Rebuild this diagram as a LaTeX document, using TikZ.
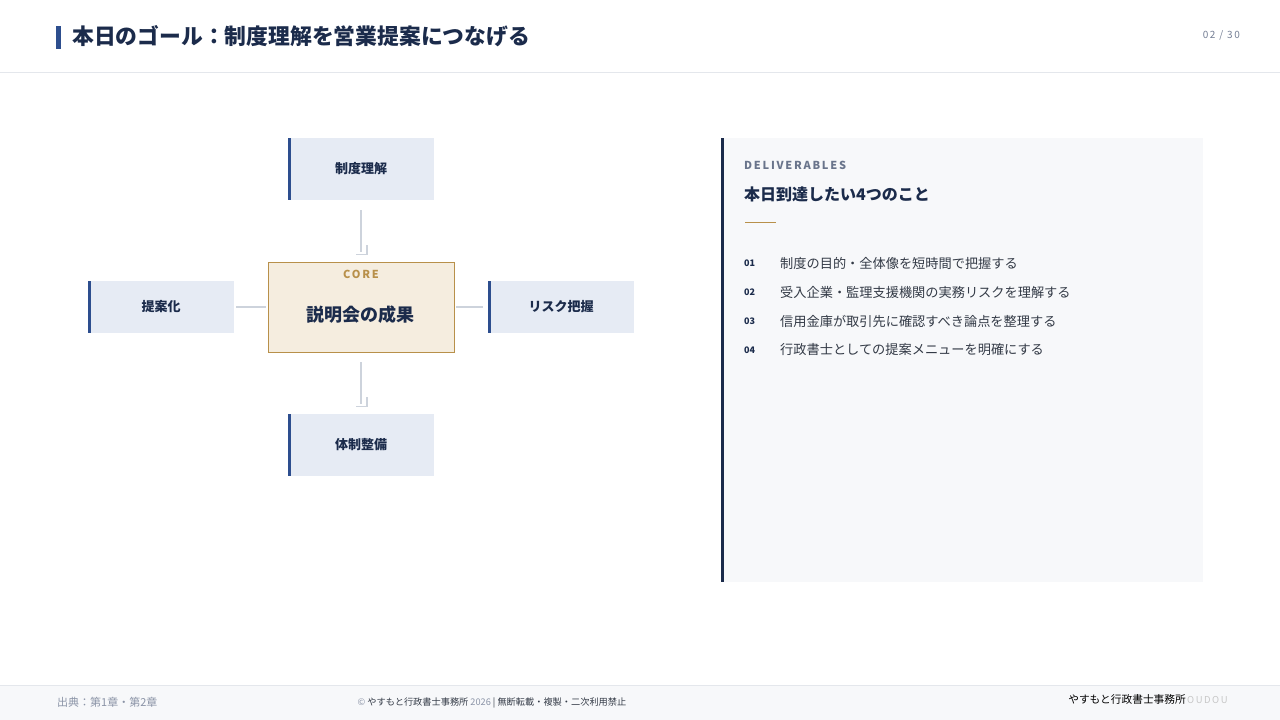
\documentclass[tikz,border=0pt]{standalone}
\usepackage{fontspec}
\setmainfont{Noto Sans CJK JP}
\newfontfamily\widefont[LetterSpace=16]{Noto Sans CJK JP}
\usetikzlibrary{positioning}
\definecolor{navy}{HTML}{1B2B4B}
\definecolor{accent}{HTML}{2D4E8E}
\definecolor{paleblue}{HTML}{E6EBF4}
\definecolor{cream}{HTML}{F5EDDF}
\definecolor{gold}{HTML}{B8904A}
\definecolor{panel}{HTML}{F7F8FA}
\definecolor{rule}{HTML}{E4E7EC}
\definecolor{linkgray}{HTML}{CDD3DC}
\definecolor{muted}{HTML}{8A93A6}
\definecolor{body}{HTML}{333A46}

\begin{document}
\begin{tikzpicture}[x=1pt,y=-1pt,
        pill/.style={fill=paleblue,minimum width=146pt,minimum height=62pt,inner sep=0pt,
          font=\fontsize{13}{15}\selectfont\bfseries,text=navy},
        sidepill/.style={pill,minimum height=52pt},
        corebox/.style={draw=gold,line width=0.8pt,fill=cream,minimum width=186pt,
          minimum height=90pt,inner sep=0pt},
        link/.style={draw=linkgray,line width=1.6pt},
        num/.style={anchor=west,inner sep=0pt,font=\fontsize{9}{10}\selectfont\bfseries,text=navy},
        item/.style={anchor=west,inner sep=0pt,font=\fontsize{13.2}{15}\selectfont,text=body}
      ]
        \useasboundingbox (0,0) rectangle (1280,720);
        % header
        \fill[white] (0,0) rectangle (1280,72);
        \draw[rule,line width=1.2pt] (0,72.5) -- (1280,72.5);
        \fill[accent] (56,26) rectangle (60.5,49);
        \node[anchor=west,inner sep=0pt,font=\fontsize{21.8}{24}\selectfont\bfseries,text=navy] (title) at (72,36)
          {本日のゴール：制度理解を営業提案につなげる};
        \node[anchor=east,inner sep=0pt,font=\widefont\fontsize{10}{12}\selectfont,text=muted!80!navy] (page) at (1240,35) {02 / 30};

        % diagram
        \node[corebox] (core) at (361,307) {};
        \node[font=\widefont\fontsize{11}{13}\selectfont\bfseries,text=gold] (coretag) at (361,274) {CORE};
        \node[font=\fontsize{18}{22}\selectfont\bfseries,text=navy] (corelabel) at (360,315) {説明会の成果};
        \node[pill] (top) at (361,169) {制度理解};
        \node[pill] (bottom) at (361,445) {体制整備};
        \node[sidepill] (left) at (161,307) {提案化};
        \node[sidepill] (right) at (561,307) {リスク把握};
        \foreach \n in {top,bottom,left,right}
          \fill[accent] (\n.north west) rectangle ([xshift=3pt]\n.south west);

        \draw[link] ([yshift=-10pt]top.south) -- ([yshift=10pt]core.north) coordinate (topend);
        \draw[link] ([yshift=-10pt]core.south) -- ([yshift=10pt]bottom.north) coordinate (botend);
        \foreach \c in {topend,botend}
          \draw[link,line width=1.2pt] ([xshift=-5pt,yshift=-3pt]\c) -- ++(11,0) -- ++(0,-10);
        \draw[link] ([xshift=2pt]left.east) -- ([xshift=-2pt]core.west);
        \draw[link] ([xshift=2pt]core.east) -- ([xshift=-5pt]right.west);

        % deliverables panel
        \fill[panel] (721,138) rectangle (1203,582);
        \fill[navy] (721,138) rectangle (724,582);
        \node[anchor=west,inner sep=0pt,font=\widefont\fontsize{11}{13}\selectfont\bfseries,text=muted!70!navy] (kicker) at (744,165) {DELIVERABLES};
        \node[anchor=west,inner sep=0pt,font=\fontsize{16}{19}\selectfont\bfseries,text=navy] (heading) at (744,194) {本日到達したい4つのこと};
        \draw[gold,line width=1pt] (745,222) -- (776,222);
        \node[num] (n1) at (744,263) {01};
        \node[item] (i1) at (780,263) {制度の目的・全体像を短時間で把握する};
        \node[num] (n2) at (744,292) {02};
        \node[item] (i2) at (780,292) {受入企業・監理支援機関の実務リスクを理解する};
        \node[num] (n3) at (744,321) {03};
        \node[item] (i3) at (780,321) {信用金庫が取引先に確認すべき論点を整理する};
        \node[num] (n4) at (744,350) {04};
        \node[item] (i4) at (780,350) {行政書士としての提案メニューを明確にする};

        % footer
        \fill[panel] (0,685) rectangle (1280,720);
        \draw[rule,line width=1pt] (0,685) -- (1280,685);
        \node[anchor=west,inner sep=0pt,font=\fontsize{11}{13}\selectfont,text=muted] (source) at (57,702) {出典：第1章・第2章};
        \node[font=\fontsize{9.2}{10}\selectfont,text=body] (copy) at (492,703)
          {\textcolor{muted}{©} やすもと行政書士事務所 \textcolor{muted}{2026} | 無断転載・複製・二次利用禁止};
        \node[anchor=east,inner sep=0pt,font=\fontsize{10.7}{13}\selectfont,text=black] (office) at (1186,699) {やすもと行政書士事務所};
        \node[anchor=west,inner sep=0pt,font=\widefont\fontsize{9.5}{11}\selectfont,text=black!22] (logo) at (1187,700) {OUDOU};
      \end{tikzpicture}
\end{document}
